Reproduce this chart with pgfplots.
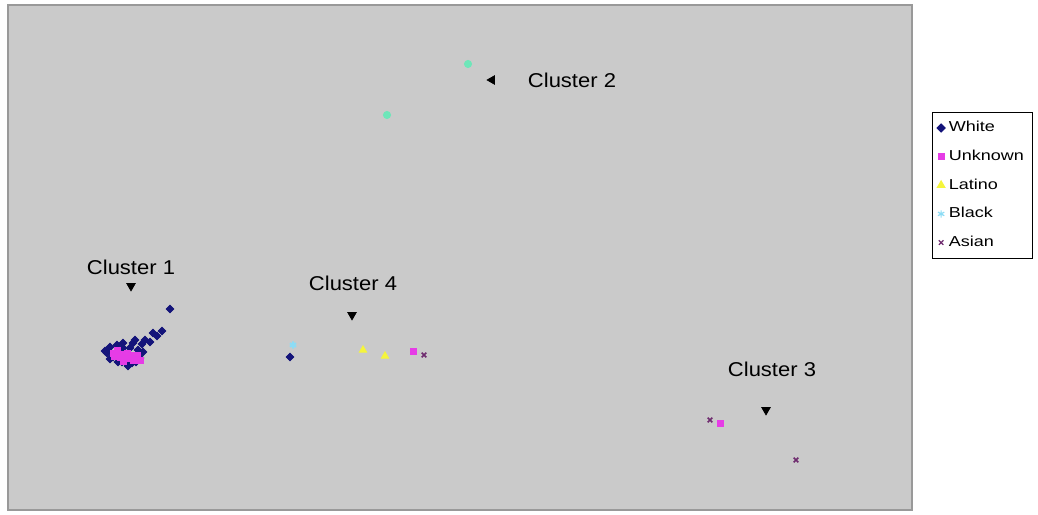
\documentclass[border=0pt]{standalone}
\usepackage{pgfplots}
\pgfplotsset{compat=1.18}
\usepackage{fontspec}
\setmainfont{Liberation Sans}
\usepackage{graphicx}
\definecolor{bg}{HTML}{CACACA}
\definecolor{frame}{HTML}{999999}
\definecolor{cwhite}{HTML}{14147A}
\definecolor{cunknown}{HTML}{E63CE6}
\definecolor{clatino}{HTML}{F5F53C}
\definecolor{cblack}{HTML}{8CDCF5}
\definecolor{casian}{HTML}{6E2A6E}
\definecolor{cmint}{HTML}{6EE6B9}
\newcommand{\lgs}[1]{\scalebox{1.25}[1]{#1}}
\begin{document}
\begin{tikzpicture}
\begin{axis}[
  x=0.5pt, y=0.5pt,
  xmin=8, xmax=912, ymin=-510, ymax=-5,
  axis background/.style={fill=bg},
  axis line style={draw=frame, line width=1pt},
  xtick=\empty, ytick=\empty,
  clip=false,
  legend style={at={(axis cs:932,-112)}, anchor=north west, draw=black, line width=0.5pt,
    font=\fontsize{7.2}{8.5}\selectfont, row sep=3.6pt, inner sep=2.4pt,
    /tikz/every even column/.append style={column sep=0pt}},
  legend cell align=left,
  legend image code/.code={\draw[#1] plot coordinates {(0.16cm,0cm)};},
  legend image post style={line width=0.6pt},
]
\path (axis cs:0,0) rectangle (axis cs:1038,-514);
% White
\addplot[only marks, mark=square*, mark size=1.35pt, color=cwhite, mark options={rotate=45}] coordinates {
 (170,-309) (162,-331) (153,-333) (145,-340) (150,-342) (135,-340) (133,-343)
 (123,-343) (117,-345) (110,-347) (108,-350) (107,-353) (113,-357) (122,-362)
 (132,-363) (140,-358) (138,-350) (130,-348) (123,-348) (157,-336) (142,-344)
 (105,-351) (118,-362) (128,-366) (136,-362) (110,-359) (143,-352) (290,-357)
};
\addlegendentry{\lgs{White}}
% Unknown
\addplot[only marks, mark=square*, mark size=1.5pt, color=cunknown] coordinates {
 (113,-353) (120,-357) (128,-358) (133,-360) (127,-353) (117,-350) (137,-355)
 (123,-361) (114,-356) (131,-355) (124,-354) (140,-360) (413,-351) (720,-423)
};
\addlegendentry{\lgs{Unknown}}
% Latino
\addplot[only marks, mark=triangle*, mark size=2.1pt, color=clatino] coordinates {
 (363,-350) (385,-356)
};
\addlegendentry{\lgs{Latino}}
% Black
\addplot[only marks, mark=asterisk, mark size=1.8pt, color=cblack, line width=1pt] coordinates {
 (293,-345)
};
\addlegendentry{\lgs{Black}}
% Asian
\addplot[only marks, mark=x, mark size=1.6pt, color=casian, line width=0.8pt] coordinates {
 (424,-355) (710,-420) (796,-460)
};
\addlegendentry{\lgs{Asian}}
% cluster 2 points
\addplot[forget plot, only marks, mark=*, mark size=1.8pt, color=cmint] coordinates {
 (468,-64) (387,-115)
};
% cluster markers
\addplot[forget plot, only marks, mark=triangle*, mark size=2.4pt, color=black, mark options={rotate=180}] coordinates {
 (131,-286) (352,-315) (766,-410)
};
\addplot[forget plot, only marks, mark=triangle*, mark size=2.4pt, color=black, mark options={rotate=90}] coordinates {
 (492,-80)
};
\node[font=\fontsize{10}{12}\selectfont] at (axis cs:131,-267) {\scalebox{1.1}[1]{Cluster 1}};
\node[font=\fontsize{10}{12}\selectfont] at (axis cs:572,-80) {\scalebox{1.1}[1]{Cluster 2}};
\node[font=\fontsize{10}{12}\selectfont] at (axis cs:353,-283) {\scalebox{1.1}[1]{Cluster 4}};
\node[font=\fontsize{10}{12}\selectfont] at (axis cs:772,-369) {\scalebox{1.1}[1]{Cluster 3}};
\end{axis}
\end{tikzpicture}
\end{document}
